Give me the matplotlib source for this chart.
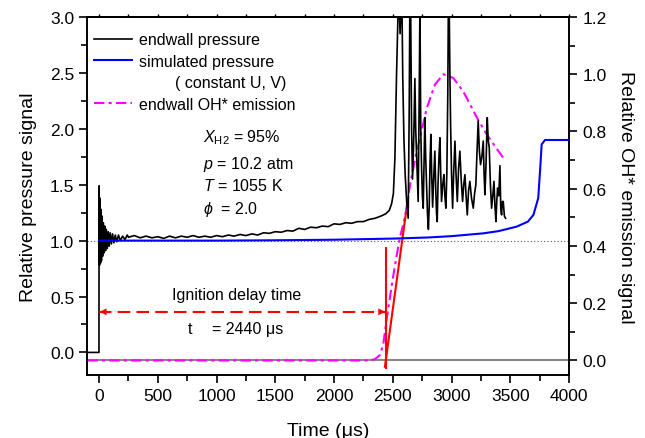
import matplotlib
matplotlib.use("Agg")
import matplotlib.pyplot as plt
from matplotlib.ticker import MultipleLocator

plt.rcParams['font.family'] = ['Liberation Sans', 'DejaVu Sans']
plt.rcParams['mathtext.fontset'] = 'custom'
plt.rcParams['mathtext.rm'] = 'Liberation Sans'
plt.rcParams['mathtext.it'] = 'Liberation Sans:italic'

# ---- data ----
t_pressure = [-100, -1, 0, 4, 8, 12, 16, 20, 25, 30, 36, 42, 48, 55, 62, 70, 78, 86, 95,
              105, 115, 126, 138, 150, 165, 180, 200, 220, 240,
              250, 300, 350, 400, 450, 500, 550, 600, 650, 700, 750, 800, 850, 900, 950,
              1000, 1050, 1100, 1150, 1200, 1250, 1300, 1350, 1400, 1450, 1500, 1550,
              1600, 1650, 1700, 1750, 1800, 1850, 1900, 1950, 2000, 2050, 2100, 2150,
              2200, 2250, 2300, 2350, 2400, 2440, 2470, 2490, 2505, 2518, 2532, 2546,
              2555, 2562, 2570, 2578, 2585, 2595, 2605, 2618, 2631, 2640, 2645, 2652,
              2660, 2668, 2678, 2688, 2695, 2702, 2710, 2716, 2724, 2731, 2738, 2745,
              2752, 2759, 2766, 2773, 2780, 2787, 2795, 2803, 2810, 2817, 2824, 2831,
              2839, 2848, 2858, 2866, 2872, 2878, 2885, 2893, 2901, 2908, 2915, 2925,
              2935, 2943, 2952, 2960, 2968, 2973, 2980, 2986, 2992, 3000, 3009, 3018,
              3029, 3038, 3049, 3060, 3071, 3082, 3094, 3104, 3114, 3124, 3134, 3145,
              3156, 3170, 3185, 3196, 3207, 3217, 3227, 3237, 3247, 3258, 3270, 3277,
              3284, 3294, 3304, 3312, 3321, 3331, 3341, 3351, 3361, 3370, 3378, 3385,
              3392, 3402, 3412, 3419, 3426, 3433, 3440, 3450, 3460]
p_endwall = [0, 0, 1.49, 0.78, 1.38, 0.80, 1.28, 0.82, 1.22, 0.86, 1.16, 0.89, 1.13, 0.91,
             1.10, 0.93, 1.08, 0.95, 1.07, 0.97, 1.06, 0.98, 1.05, 0.99, 1.05, 1.00, 1.04,
             1.01, 1.05,
             1.03, 1.045, 1.025, 1.04, 1.025, 1.035, 1.02, 1.04, 1.025, 1.04, 1.03, 1.045,
             1.03, 1.04, 1.03, 1.045, 1.035, 1.05, 1.04, 1.055, 1.045, 1.06, 1.05, 1.07,
             1.065, 1.08, 1.075, 1.09, 1.085, 1.11, 1.10, 1.12, 1.115, 1.13, 1.125, 1.15,
             1.145, 1.16, 1.155, 1.17, 1.17, 1.19, 1.20, 1.22, 1.24, 1.27, 1.33, 1.42,
             1.74, 2.49, 3.1, 3.1, 2.85, 3.1, 3.1, 2.45, 1.9, 1.6, 1.35, 1.2, 2.2, 3.1,
             3.1, 2.0, 1.55, 1.9, 2.45, 2.0, 1.78, 1.5, 1.35, 2.2, 3.1, 2.0, 1.65, 1.4,
             1.29, 1.7, 2.1, 1.75, 1.53, 1.25, 1.1, 1.3, 1.7, 1.95, 1.6, 1.3, 1.55, 1.8,
             1.45, 1.25, 1.17, 1.5, 1.75, 1.92, 1.6, 1.35, 1.5, 1.59, 1.4, 1.29, 1.6, 2.3,
             3.1, 3.1, 2.5, 2.04, 1.6, 1.29, 1.6, 1.89, 1.6, 1.35, 1.65, 1.8, 1.55, 1.35,
             1.5, 1.59, 1.4, 1.23, 1.45, 1.53, 1.38, 1.29, 1.42, 1.5, 1.8, 2.07, 1.8,
             1.68, 1.75, 1.89, 1.6, 1.41, 1.7, 2.1, 1.9, 1.83, 1.5, 1.29, 1.4, 1.53, 1.3,
             1.17, 1.35, 1.47, 1.4, 1.67, 1.28, 1.23, 1.35, 1.35, 1.22, 1.2]

t_sim = [0, 500, 1000, 1500, 2000, 2500, 2800, 3000, 3270, 3400, 3554, 3650, 3697,
         3738, 3755, 3767, 3795, 4000]
p_sim = [1.0, 1.0, 1.0, 1.003, 1.008, 1.018, 1.028, 1.04, 1.065, 1.085, 1.125, 1.17,
         1.23, 1.38, 1.65, 1.86, 1.90, 1.90]

t_oh = [-100, 2300, 2350, 2390, 2418, 2450, 2490, 2530, 2561, 2603, 2650, 2703, 2750,
        2788, 2859, 2930, 3015, 3100, 3214, 3299, 3384, 3455]
oh = [0.0, 0.0, 0.005, 0.019, 0.054, 0.15, 0.26, 0.36, 0.43, 0.50, 0.62, 0.73, 0.81,
      0.88, 0.964, 1.0, 0.987, 0.94, 0.85, 0.79, 0.74, 0.70]

t_tangent = [2433, 2612]
oh_tangent = [-0.022, 0.515]
t_ign = 2440
ign_line_ohlim = [-0.025, 0.392]
arrow_level = 0.363

# ---- figure ----
fig = plt.figure(figsize=(6.45, 4.39), dpi=100)
ax = fig.add_axes([0.1354, 0.144, 0.7468, 0.815])
ax2 = ax.twinx()

ax.set_xlim(-100, 4000)
ax.set_ylim(-0.2, 3.0)
ax2.set_ylim(-0.05, 1.2)

ax.axhline(1.0, color='#555555', lw=0.8, ls=(0, (1, 2)), zorder=1)
ax2.axhline(0.0, color='#888888', lw=1.5, zorder=1)

l1, = ax.plot(t_pressure, p_endwall, color='black', lw=1.2, zorder=3)
l2, = ax.plot(t_sim, p_sim, color='#0000ff', lw=1.5, zorder=4)
l3, = ax2.plot(t_oh, oh, color='#ff00ff', lw=1.5, ls=(0, (5, 2, 1.5, 2)), zorder=5)
ax2.plot(t_tangent, oh_tangent, color='#ff0000', lw=1.5, zorder=6)
ax2.plot([t_ign, t_ign], ign_line_ohlim, color='#ff0000', lw=1.5, zorder=6)

ax.set_zorder(ax2.get_zorder() + 1)
ax.patch.set_visible(False)

# dashed double arrow
ax.plot([0, t_ign], [arrow_level, arrow_level], color='#ff0000', lw=1.5,
        ls=(0, (6, 3)), zorder=5)
ax.annotate('', xy=(5, arrow_level), xytext=(180, arrow_level),
            arrowprops=dict(arrowstyle='-|>', color='#ff0000', lw=0.1,
                            mutation_scale=12, shrinkA=0, shrinkB=0))
ax.annotate('', xy=(t_ign - 5, arrow_level), xytext=(t_ign - 180, arrow_level),
            arrowprops=dict(arrowstyle='-|>', color='#ff0000', lw=0.1,
                            mutation_scale=12, shrinkA=0, shrinkB=0))

fs = 11.5
ax.text(1174, 0.52, 'Ignition delay time', ha='center', va='center', fontsize=fs)
ax.text(775, 0.213, 't', ha='center', va='center', fontsize=fs)
ax.text(957, 0.213, '= 2440 μs', ha='left', va='center', fontsize=fs)

ax.text(883, 1.927, r'$X_{\rm H2}$ = 95%', ha='left', va='center', fontsize=fs)
ax.text(883, 1.694, r'$p$ = 10.2 atm', ha='left', va='center', fontsize=fs)
ax.text(883, 1.496, r'$T$ = 1055 K', ha='left', va='center', fontsize=fs)
ax.text(883, 1.29, r'$\phi$  = 2.0', ha='left', va='center', fontsize=fs)

# legend
blank, = ax.plot([], [], color='none')
ax.legend([l1, l2, blank, l3],
          ['endwall pressure', 'simulated pressure', '        ( constant U, V)',
           'endwall OH* emission'],
          loc='upper left', bbox_to_anchor=(0.014, 0.957), frameon=False,
          fontsize=fs, handlelength=2.4, handletextpad=0.4, labelspacing=0.4,
          borderpad=0, borderaxespad=0)

# axes styling
for a in (ax, ax2):
    for s in a.spines.values():
        s.set_linewidth(1.2)
ax.xaxis.set_major_locator(MultipleLocator(500))
ax.xaxis.set_minor_locator(MultipleLocator(250))
ax.yaxis.set_major_locator(MultipleLocator(0.5))
ax.yaxis.set_minor_locator(MultipleLocator(0.25))
ax2.yaxis.set_major_locator(MultipleLocator(0.2))
ax2.yaxis.set_minor_locator(MultipleLocator(0.1))
ax.yaxis.set_major_formatter(matplotlib.ticker.FormatStrFormatter('%.1f'))
ax2.yaxis.set_major_formatter(matplotlib.ticker.FormatStrFormatter('%.1f'))

ax.tick_params(axis='both', which='major', direction='out', length=6, width=1.2,
               labelsize=12.5)
ax.tick_params(axis='both', which='minor', direction='out', length=4, width=1.2)
ax2.tick_params(axis='y', which='major', direction='out', length=6, width=1.2,
                labelsize=12.5)
ax2.tick_params(axis='y', which='minor', direction='out', length=4, width=1.2)

# tiny ticks on the top edge
top = ax.secondary_xaxis('top')
top.xaxis.set_major_locator(MultipleLocator(500))
top.xaxis.set_minor_locator(MultipleLocator(250))
top.tick_params(which='both', direction='out', length=2, width=1.0, labeltop=False)
top.spines['top'].set_linewidth(1.2)

ax.set_xlabel('Time (μs)', fontsize=14, labelpad=14)
ax.set_ylabel('Relative pressure signal', fontsize=14, labelpad=9)
ax2.set_ylabel('Relative OH* emission signal', fontsize=14, rotation=270, labelpad=20)

fig.savefig('out.png', dpi=100)
